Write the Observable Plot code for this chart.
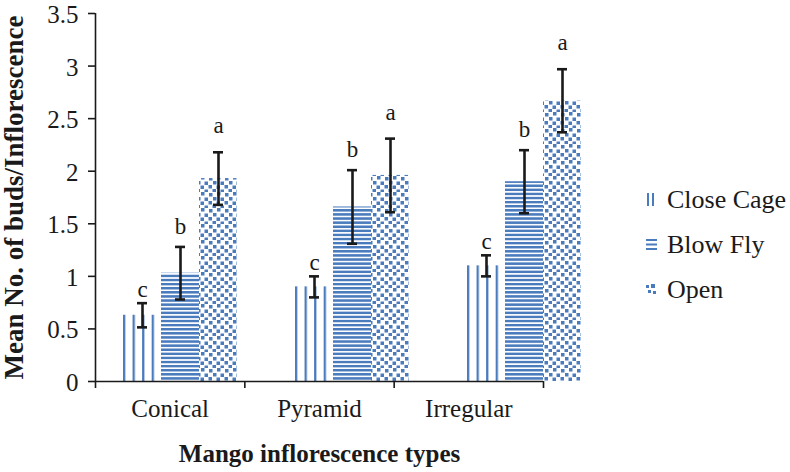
<!DOCTYPE html>
<html>
<head>
<meta charset="utf-8">
<script src="https://cdn.jsdelivr.net/npm/d3@7"></script>
<script src="https://cdn.jsdelivr.net/npm/@observablehq/plot@0.6"></script>
<style>
  body { margin: 0; background: #fff; }
  #wrap { position: relative; width: 790px; height: 472px; font-family: "Liberation Serif", "Times New Roman", serif; color: #1a1a1a; }
  #wrap > svg { position: absolute; left: 0; top: 0; }
  g[aria-label="y-axis label"] text { font-weight: bold; font-size: 27px; }
  g[aria-label="x-axis label"] text { font-weight: bold; font-size: 25px; }
  #legend { position: absolute; left: 646px; top: 177px; font-size: 26px; }
  #legend .item { display: flex; align-items: center; height: 45px; }
  #legend .item svg { margin-right: 10px; }
</style>
</head>
<body>
<div id="wrap"><div id="legend"></div></div>
<script>
// ---- data ----
const categories = ["Conical", "Pyramid", "Irregular"];
const seriesNames = ["Close Cage", "Blow Fly", "Open"];
const closeCage = [0.63, 0.90, 1.10];
const blowFly = [1.03, 1.66, 1.90];
const openVals = [1.93, 1.96, 2.67];
const closeCageErr = [0.115, 0.10, 0.10];
const blowFlyErr = [0.25, 0.35, 0.30];
const openErr = [0.25, 0.35, 0.30];
const closeCageLetters = ["c", "c", "c"];
const blowFlyLetters = ["b", "b", "b"];
const openLetters = ["a", "a", "a"];
const yTicks = [0, 0.5, 1, 1.5, 2, 2.5, 3, 3.5];
const yLabel = "Mean No. of buds/Inflorescence";
const xLabel = "Mango inflorescence types";

// ---- table built from the arrays ----
const values = [closeCage, blowFly, openVals];
const errs = [closeCageErr, blowFlyErr, openErr];
const letters = [closeCageLetters, blowFlyLetters, openLetters];
const rows = [];
categories.forEach((c, i) => seriesNames.forEach((s, k) => rows.push({
  category: c, series: s, k, value: values[k][i], err: errs[k][i], letter: letters[k][i]
})));

// ---- style / layout ----
const BLUE = "#4a7bbd";
const INK = "#1a1a1a";
const FONT = '"Liberation Serif", "Times New Roman", serif';
const W = 790, H = 472, MT = 13, MB = 91, ML = 95;
const layout = [
  {dx: -39, inL: 28, inR: 106, letterDy: -6},
  {dx: -1, inL: 66, inR: 68, letterDy: -13},
  {dx: 37, inL: 104, inR: 30, letterDy: -19}
];

const defsMark = () => {
  const ns = "http://www.w3.org/2000/svg";
  const defs = document.createElementNS(ns, "defs");
  defs.innerHTML = `
    <pattern id="pat0" patternUnits="userSpaceOnUse" x="123" y="0" width="${172/18}" height="10">
      <rect x="0" y="0" width="2.3" height="10" fill="${BLUE}"/>
    </pattern>
    <pattern id="pat1" patternUnits="userSpaceOnUse" x="0" y="0" width="10" height="4.1">
      <rect x="0" y="0" width="10" height="2.5" fill="${BLUE}"/>
    </pattern>
    <pattern id="pat2" patternUnits="userSpaceOnUse" x="0" y="0" width="16" height="16">
      <rect x="1" y="1" width="3.5" height="3.5" fill="${BLUE}"/>
      <rect x="9" y="0" width="3.5" height="3.5" fill="${BLUE}"/>
      <rect x="5" y="5" width="3.5" height="3.5" fill="${BLUE}"/>
      <rect x="12.5" y="5.5" width="3.5" height="3.5" fill="${BLUE}"/>
      <rect x="0.5" y="9" width="3.5" height="3.5" fill="${BLUE}"/>
      <rect x="8.5" y="9.5" width="3.5" height="3.5" fill="${BLUE}"/>
      <rect x="4.5" y="13" width="3.5" height="3" fill="${BLUE}"/>
      <rect x="12.5" y="13.5" width="3.5" height="2.5" fill="${BLUE}"/>
    </pattern>`;
  return defs;
};

const marks1 = [defsMark];
seriesNames.forEach((s, k) => {
  const d = rows.filter(r => r.k === k);
  marks1.push(Plot.barY(d, {x: "category", y: "value", fill: `url(#pat${k})`, insetLeft: layout[k].inL, insetRight: layout[k].inR}));
});
seriesNames.forEach((s, k) => {
  const d = rows.filter(r => r.k === k);
  const L = layout[k];
  marks1.push(Plot.ruleX(d, {x: "category", y1: r => r.value - r.err, y2: r => r.value + r.err, dx: L.dx, stroke: INK, strokeWidth: 2.6}));
  marks1.push(Plot.tickY(d, {x: "category", y: r => r.value - r.err, dx: L.dx, insetLeft: 81, insetRight: 81, stroke: INK, strokeWidth: 2.6}));
  marks1.push(Plot.tickY(d, {x: "category", y: r => r.value + r.err, dx: L.dx, insetLeft: 81, insetRight: 81, stroke: INK, strokeWidth: 2.6}));
  marks1.push(Plot.text(d, {x: "category", y: r => r.value + r.err, text: "letter", dx: L.dx, dy: L.letterDy, lineAnchor: "bottom", fontSize: 23, fill: INK}));
});

const plot1 = Plot.plot({
  width: W, height: H,
  marginLeft: ML, marginRight: W - 611, marginTop: MT, marginBottom: MB,
  style: {background: "transparent", fontFamily: FONT, fontSize: "24px", color: INK},
  x: {type: "band", domain: categories, padding: 0, axis: null},
  y: {domain: [0, 3.5], axis: null},
  marks: marks1
});

const plot2 = Plot.plot({
  width: W, height: H,
  marginLeft: ML, marginRight: W - 543, marginTop: MT, marginBottom: MB,
  style: {background: "transparent", fontFamily: FONT, fontSize: "24px", color: INK},
  x: {type: "linear", domain: [0, 3]},
  y: {domain: [0, 3.5]},
  marks: [
    Plot.ruleX([0], {stroke: INK, strokeWidth: 1.6}),
    Plot.ruleY([0], {stroke: INK, strokeWidth: 1.6}),
    Plot.axisY(yTicks, {tickSize: 7, strokeWidth: 1.6, tickFormat: () => "",
      label: yLabel, labelAnchor: "center", labelArrow: "none", labelOffset: 92}),
    Plot.axisY(yTicks, {tickSize: 0, tickPadding: 17, tickFormat: d => String(d), fontSize: 25, dy: 1.5, label: null}),
    Plot.axisX([0, 1, 2, 3], {tickSize: 7, strokeWidth: 1.6, tickFormat: () => "", label: null}),
    Plot.axisX([0.5, 1.5, 2.5], {tickSize: 0, tickPadding: 18, fontSize: 25, tickFormat: d => categories[Math.floor(d)],
      label: xLabel, labelAnchor: "center", labelArrow: "none", labelOffset: 80})
  ]
});

const wrap = document.getElementById("wrap");
wrap.insertBefore(plot1, wrap.firstChild);
wrap.insertBefore(plot2, document.getElementById("legend"));

// ---- legend ----
const swatches = [
  `<svg width="11" height="13"><rect x="1" y="0" width="2" height="13" fill="${BLUE}"/><rect x="6" y="0" width="2" height="13" fill="${BLUE}"/></svg>`,
  `<svg width="11" height="13"><rect x="0" y="1" width="11" height="2" fill="${BLUE}"/><rect x="0" y="5.5" width="11" height="2" fill="${BLUE}"/><rect x="0" y="10" width="11" height="2" fill="${BLUE}"/></svg>`,
  `<svg width="11" height="13"><rect x="0" y="2" width="3" height="3" fill="${BLUE}"/><rect x="5" y="1" width="4" height="4" fill="${BLUE}"/><rect x="2" y="7" width="3" height="3" fill="${BLUE}"/><rect x="7" y="8" width="3" height="3" fill="${BLUE}"/></svg>`
];
const legend = document.getElementById("legend");
seriesNames.forEach((s, k) => {
  const div = document.createElement("div");
  div.className = "item";
  div.innerHTML = swatches[k] + `<span>${s}</span>`;
  legend.appendChild(div);
});
</script>
</body>
</html>
